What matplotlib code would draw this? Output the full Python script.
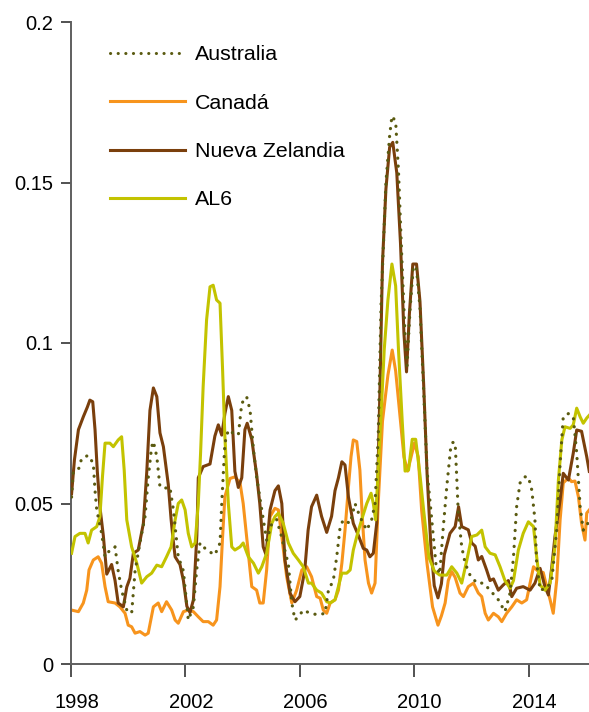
import matplotlib
matplotlib.use('Agg')
import matplotlib.pyplot as plt
import matplotlib.transforms as mtrans

plt.rcParams['font.family'] = ['Liberation Sans', 'DejaVu Sans']

FONT_SIZE = 14.5
LEGEND_SIZE = 15.4
AXIS_COLOR = '#5f5f5f'

# series names as in the legend
labels = ['Australia', 'Canadá', 'Nueva Zelandia', 'AL6']
colors = ['#5a5a10', '#f7941d', '#7a3f0c', '#c3c300']

aus_year = [1998.02, 1998.08, 1998.28, 1998.37, 1998.60, 1998.78, 1998.84, 1998.90, 1999.07, 1999.19,
            1999.36, 1999.54, 1999.65, 1999.77, 1999.95, 2000.12, 2000.24, 2000.41, 2000.59, 2000.70,
            2000.82, 2000.88, 2001.00, 2001.11, 2001.29, 2001.46, 2001.58, 2001.75, 2001.93, 2002.10,
            2002.28, 2002.39, 2002.51, 2002.74, 2003.03, 2003.21, 2003.27, 2003.38, 2003.50, 2003.67,
            2003.85, 2003.97, 2004.14, 2004.26, 2004.38, 2004.49, 2004.67, 2004.84, 2005.02, 2005.19,
            2005.35, 2005.60, 2005.72, 2005.83, 2005.95, 2006.12, 2006.36, 2006.65, 2006.88, 2007.00,
            2007.17, 2007.29, 2007.41, 2007.52, 2007.76, 2007.93, 2008.10, 2008.34, 2008.51, 2008.63,
            2008.74, 2008.84, 2009.01, 2009.14, 2009.22, 2009.35, 2009.45, 2009.57, 2009.70, 2009.75,
            2009.85, 2009.97, 2010.08, 2010.20, 2010.33, 2010.45, 2010.58, 2010.76, 2010.89, 2011.01,
            2011.14, 2011.27, 2011.35, 2011.43, 2011.49, 2011.54, 2011.66, 2011.78, 2011.95, 2012.19,
            2012.42, 2012.65, 2012.94, 2013.17, 2013.35, 2013.47, 2013.58, 2013.70, 2013.87, 2013.99,
            2014.11, 2014.22, 2014.28, 2014.40, 2014.63, 2014.81, 2014.98, 2015.10, 2015.21, 2015.39,
            2015.56, 2015.68, 2015.80, 2015.91, 2016.03, 2016.12]
aus_val = [0.052, 0.060, 0.061, 0.064, 0.065, 0.0625, 0.054, 0.048, 0.0407, 0.0334,
           0.0355, 0.0365, 0.029, 0.023, 0.0168, 0.0158, 0.029, 0.0377, 0.046, 0.058,
           0.0677, 0.0693, 0.0646, 0.0552, 0.0548, 0.055, 0.048, 0.0334, 0.029, 0.0137,
           0.0178, 0.029, 0.0377, 0.0355, 0.034, 0.0377, 0.050, 0.0688, 0.0729, 0.0719,
           0.0713, 0.0812, 0.0833, 0.0791, 0.0667, 0.0583, 0.048, 0.0386, 0.0438, 0.045,
           0.040, 0.031, 0.019, 0.0137, 0.0147, 0.0168, 0.0158, 0.0153, 0.0158, 0.023,
           0.026, 0.0334, 0.0428, 0.0449, 0.0438, 0.050, 0.0459, 0.0417, 0.0449, 0.050,
           0.0708, 0.112, 0.150, 0.1646, 0.1707, 0.169, 0.1535, 0.1256, 0.098, 0.093,
           0.110, 0.124, 0.123, 0.111, 0.085, 0.060, 0.048, 0.031, 0.028, 0.042,
           0.0555, 0.067, 0.069, 0.069, 0.0573, 0.047, 0.0365, 0.0314, 0.0277, 0.0252,
           0.0252, 0.023, 0.020, 0.0163, 0.0221, 0.0334, 0.049, 0.0564, 0.0583, 0.0583,
           0.0542, 0.0449, 0.0314, 0.023, 0.0236, 0.026, 0.0417, 0.0625, 0.077, 0.078,
           0.077, 0.0657, 0.049, 0.0417, 0.043, 0.045]

can_year = [1998.02, 1998.26, 1998.43, 1998.55, 1998.63, 1998.78, 1998.95, 1999.07, 1999.19, 1999.30,
            1999.54, 1999.71, 1999.89, 2000.00, 2000.12, 2000.24, 2000.41, 2000.59, 2000.70, 2000.88,
            2001.05, 2001.17, 2001.34, 2001.52, 2001.64, 2001.75, 2001.93, 2002.10, 2002.28, 2002.45,
            2002.62, 2002.80, 2002.97, 2003.09, 2003.21, 2003.30, 2003.38, 2003.56, 2003.73, 2003.91,
            2004.02, 2004.20, 2004.32, 2004.49, 2004.60, 2004.72, 2004.84, 2004.96, 2005.13, 2005.25,
            2005.37, 2005.54, 2005.72, 2005.89, 2006.07, 2006.24, 2006.41, 2006.59, 2006.71, 2006.82,
            2006.94, 2007.06, 2007.23, 2007.35, 2007.47, 2007.58, 2007.70, 2007.79, 2007.87, 2007.99,
            2008.10, 2008.19, 2008.28, 2008.40, 2008.51, 2008.63, 2008.74, 2008.89, 2009.08, 2009.23,
            2009.35, 2009.52, 2009.64, 2009.77, 2009.89, 2010.01, 2010.14, 2010.26, 2010.45, 2010.64,
            2010.83, 2010.95, 2011.08, 2011.19, 2011.31, 2011.43, 2011.60, 2011.72, 2011.89, 2012.07,
            2012.24, 2012.36, 2012.48, 2012.59, 2012.77, 2012.94, 2013.06, 2013.23, 2013.41, 2013.58,
            2013.76, 2013.93, 2014.05, 2014.17, 2014.34, 2014.51, 2014.63, 2014.75, 2014.86, 2014.98,
            2015.10, 2015.21, 2015.39, 2015.50, 2015.62, 2015.74, 2015.85, 2015.97, 2016.03, 2016.12]
can_val = [0.0168, 0.0163, 0.019, 0.023, 0.0293, 0.0324, 0.0334, 0.0314, 0.0241, 0.0194,
           0.019, 0.0178, 0.0158, 0.0121, 0.0116, 0.0096, 0.0101, 0.009, 0.0096, 0.0178,
           0.019, 0.0163, 0.0194, 0.0168, 0.0137, 0.0127, 0.0163, 0.0168, 0.0163, 0.0147,
           0.0132, 0.0132, 0.0121, 0.0137, 0.0241, 0.0397, 0.0521, 0.0578, 0.0583, 0.0564,
           0.050, 0.0345, 0.0241, 0.023, 0.019, 0.019, 0.0293, 0.0459, 0.0485, 0.048,
           0.0397, 0.0272, 0.019, 0.023, 0.0293, 0.0303, 0.0272, 0.021, 0.0205, 0.0168,
           0.0158, 0.019, 0.020, 0.023, 0.0314, 0.0417, 0.0552, 0.0646, 0.0698, 0.0693,
           0.0604, 0.0449, 0.0324, 0.0252, 0.0221, 0.0252, 0.050, 0.0756, 0.090, 0.0978,
           0.0913, 0.0756, 0.0645, 0.0601, 0.0645, 0.0689, 0.0645, 0.0478, 0.0311, 0.0178,
           0.0121, 0.015, 0.019, 0.026, 0.0288, 0.027, 0.0221, 0.021, 0.0241, 0.0252,
           0.0221, 0.021, 0.0158, 0.0137, 0.0158, 0.0147, 0.0132, 0.0158, 0.0178, 0.020,
           0.019, 0.020, 0.0252, 0.0303, 0.0288, 0.0285, 0.0241, 0.020, 0.0158, 0.026,
           0.0449, 0.0564, 0.058, 0.0568, 0.057, 0.0521, 0.0438, 0.0386, 0.047, 0.048]

nz_year = [1998.02, 1998.12, 1998.26, 1998.43, 1998.57, 1998.66, 1998.76, 1998.84, 1998.92, 1999.01,
           1999.13, 1999.25, 1999.42, 1999.54, 1999.65, 1999.83, 1999.95, 2000.06, 2000.18, 2000.35,
           2000.53, 2000.65, 2000.76, 2000.88, 2001.00, 2001.11, 2001.23, 2001.40, 2001.50, 2001.58,
           2001.64, 2001.81, 2001.93, 2002.05, 2002.16, 2002.28, 2002.40, 2002.45, 2002.62, 2002.86,
           2003.03, 2003.15, 2003.27, 2003.38, 2003.50, 2003.62, 2003.73, 2003.85, 2003.97, 2004.08,
           2004.16, 2004.32, 2004.49, 2004.60, 2004.72, 2004.82, 2004.96, 2005.13, 2005.25, 2005.37,
           2005.48, 2005.66, 2005.83, 2006.00, 2006.17, 2006.29, 2006.41, 2006.59, 2006.76, 2006.94,
           2007.11, 2007.23, 2007.35, 2007.47, 2007.58, 2007.70, 2007.87, 2008.05, 2008.22, 2008.34,
           2008.45, 2008.57, 2008.69, 2008.80, 2008.89, 2009.01, 2009.14, 2009.25, 2009.39, 2009.52,
           2009.64, 2009.73, 2009.83, 2009.95, 2010.08, 2010.20, 2010.33, 2010.45, 2010.58, 2010.70,
           2010.83, 2010.95, 2011.05, 2011.25, 2011.43, 2011.55, 2011.66, 2011.89, 2012.01, 2012.13,
           2012.24, 2012.36, 2012.53, 2012.65, 2012.77, 2012.94, 2013.11, 2013.29, 2013.41, 2013.58,
           2013.81, 2014.05, 2014.22, 2014.40, 2014.57, 2014.69, 2014.81, 2014.92, 2015.10, 2015.21,
           2015.39, 2015.56, 2015.68, 2015.85, 2016.03, 2016.12]
nz_val = [0.053, 0.0636, 0.073, 0.077, 0.080, 0.0822, 0.0817, 0.073, 0.060, 0.049,
          0.040, 0.028, 0.031, 0.026, 0.019, 0.0178, 0.024, 0.0267, 0.0345, 0.0355,
          0.0438, 0.060, 0.079, 0.086, 0.0833, 0.072, 0.0677, 0.056, 0.045, 0.038,
          0.0334, 0.031, 0.026, 0.018, 0.016, 0.020, 0.040, 0.058, 0.0615, 0.0623,
          0.071, 0.0745, 0.0713, 0.078, 0.0833, 0.079, 0.060, 0.055, 0.058, 0.073,
          0.075, 0.070, 0.059, 0.050, 0.0365, 0.034, 0.048, 0.054, 0.0555, 0.050,
          0.0324, 0.022, 0.0194, 0.021, 0.029, 0.0417, 0.049, 0.0526, 0.046, 0.041,
          0.046, 0.054, 0.058, 0.063, 0.062, 0.052, 0.0438, 0.040, 0.036, 0.0355,
          0.0334, 0.0345, 0.044, 0.085, 0.125, 0.148, 0.161, 0.1625, 0.153, 0.131,
          0.103, 0.091, 0.109, 0.1246, 0.1246, 0.113, 0.087, 0.059, 0.037, 0.0244,
          0.0206, 0.025, 0.034, 0.0407, 0.0428, 0.049, 0.0428, 0.0418, 0.0377, 0.0367,
          0.0324, 0.0335, 0.0293, 0.026, 0.0265, 0.023, 0.0246, 0.026, 0.021, 0.0236,
          0.0241, 0.023, 0.0252, 0.0298, 0.0241, 0.0215, 0.0303, 0.0397, 0.0511, 0.0594,
          0.0573, 0.0657, 0.0729, 0.0725, 0.0646, 0.060]

al6_year = [1998.02, 1998.14, 1998.31, 1998.49, 1998.60, 1998.72, 1998.90, 1999.01, 1999.10, 1999.19,
            1999.36, 1999.48, 1999.65, 1999.77, 1999.86, 1999.95, 2000.12, 2000.30, 2000.47, 2000.65,
            2000.82, 2001.00, 2001.17, 2001.34, 2001.50, 2001.64, 2001.75, 2001.87, 2001.99, 2002.10,
            2002.22, 2002.34, 2002.45, 2002.53, 2002.62, 2002.74, 2002.86, 2002.97, 2003.09, 2003.21,
            2003.30, 2003.38, 2003.50, 2003.62, 2003.73, 2003.91, 2004.02, 2004.20, 2004.38, 2004.55,
            2004.67, 2004.84, 2005.02, 2005.13, 2005.25, 2005.42, 2005.60, 2005.77, 2005.95, 2006.12,
            2006.30, 2006.41, 2006.59, 2006.76, 2006.94, 2007.06, 2007.23, 2007.35, 2007.47, 2007.64,
            2007.76, 2007.87, 2007.99, 2008.16, 2008.34, 2008.49, 2008.57, 2008.65, 2008.74, 2008.86,
            2008.95, 2009.08, 2009.22, 2009.35, 2009.45, 2009.58, 2009.68, 2009.80, 2009.93, 2010.05,
            2010.20, 2010.33, 2010.51, 2010.70, 2010.89, 2011.14, 2011.31, 2011.49, 2011.66, 2011.84,
            2012.01, 2012.19, 2012.36, 2012.48, 2012.65, 2012.83, 2013.00, 2013.17, 2013.35, 2013.47,
            2013.64, 2013.81, 2013.99, 2014.17, 2014.28, 2014.40, 2014.57, 2014.75, 2014.92, 2015.04,
            2015.16, 2015.27, 2015.45, 2015.56, 2015.68, 2015.80, 2015.91, 2016.03, 2016.12]
al6_val = [0.0345, 0.0397, 0.0407, 0.0407, 0.0377, 0.0417, 0.0428, 0.0459, 0.0583, 0.0688,
           0.0688, 0.0677, 0.0698, 0.0708, 0.0604, 0.0449, 0.0365, 0.0314, 0.0252, 0.0272,
           0.0283, 0.0308, 0.0303, 0.0334, 0.0365, 0.0449, 0.050, 0.0511, 0.048, 0.0407,
           0.0365, 0.0377, 0.050, 0.0657, 0.0864, 0.1072, 0.1175, 0.118, 0.1134, 0.1124,
           0.0916, 0.0708, 0.050, 0.0365, 0.0355, 0.0365, 0.0377, 0.0334, 0.0314, 0.0283,
           0.0303, 0.0345, 0.0438, 0.0459, 0.047, 0.0438, 0.0377, 0.0345, 0.0324, 0.0303,
           0.0252, 0.0252, 0.023, 0.0221, 0.0194, 0.019, 0.020, 0.0241, 0.0283, 0.0283,
           0.0293, 0.0355, 0.0397, 0.0449, 0.050, 0.0532, 0.050, 0.0449, 0.0604, 0.0812,
           0.0978, 0.1134, 0.1246, 0.1178, 0.0978, 0.0756, 0.0601, 0.0604, 0.070, 0.070,
           0.0589, 0.0478, 0.0333, 0.029, 0.0277, 0.0277, 0.0303, 0.0283, 0.0252, 0.0324,
           0.0397, 0.0402, 0.0417, 0.0365, 0.0345, 0.034, 0.0303, 0.026, 0.0236, 0.026,
           0.0355, 0.0407, 0.0443, 0.0428, 0.0334, 0.0246, 0.023, 0.0252, 0.0365, 0.0573,
           0.0698, 0.0739, 0.0734, 0.0745, 0.0797, 0.077, 0.075, 0.0766, 0.0775]

x_ticks = [1998, 2002, 2006, 2010, 2014]
y_ticks = [0, 0.05, 0.1, 0.15, 0.2]
y_tick_labels = ['0', '0.05', '0.1', '0.15', '0.2']


def draw_series(ax):
    ax.plot(aus_year, aus_val, color=colors[0], lw=2.3, linestyle=(0, (0.05, 2.45)),
            dash_capstyle='round', label=labels[0], zorder=4)
    ax.plot(can_year, can_val, color=colors[1], lw=2.2, solid_joinstyle='round',
            label=labels[1], zorder=2)
    ax.plot(nz_year, nz_val, color=colors[2], lw=2.2, solid_joinstyle='round',
            label=labels[2], zorder=3)
    ax.plot(al6_year, al6_val, color=colors[3], lw=2.2, solid_joinstyle='round',
            label=labels[3], zorder=3)


def style_axes(fig, ax):
    for side in ['top', 'right']:
        ax.spines[side].set_visible(False)
    for side in ['left', 'bottom']:
        ax.spines[side].set_color(AXIS_COLOR)
        ax.spines[side].set_linewidth(1.4)
    ax.set_xlim(1998, 2016.11)
    ax.set_ylim(0, 0.2)
    ax.set_xticks(x_ticks)
    ax.set_xticklabels([str(y) for y in x_ticks])
    ax.set_yticks(y_ticks)
    ax.set_yticklabels(y_tick_labels)
    ax.tick_params(axis='x', direction='out', length=9.5, width=1.2, color='#333333',
                   pad=11.5, labelsize=FONT_SIZE)
    ax.tick_params(axis='y', direction='out', length=7.5, width=1.2, color='#333333',
                   pad=5.5, labelsize=FONT_SIZE)
    # the year labels sit a little right of their ticks
    shift = mtrans.ScaledTranslation(5.5 / 100, 0, fig.dpi_scale_trans)
    for lbl in ax.get_xticklabels():
        lbl.set_transform(lbl.get_transform() + shift)


def main():
    fig = plt.figure(figsize=(5.89, 7.12), dpi=100)
    ax = fig.add_axes([71 / 589, 48 / 712, 518 / 589, 642 / 712])
    draw_series(ax)
    style_axes(fig, ax)
    leg = ax.legend(loc='upper left', bbox_to_anchor=(0.0753, 0.9635), frameon=False,
                    fontsize=LEGEND_SIZE, handlelength=3.5, handletextpad=0.47,
                    labelspacing=1.37, borderpad=0, borderaxespad=0)
    for line in leg.get_lines():
        line.set_linewidth(2.2)
    fig.savefig('out.png', dpi=100)


if __name__ == '__main__':
    main()
